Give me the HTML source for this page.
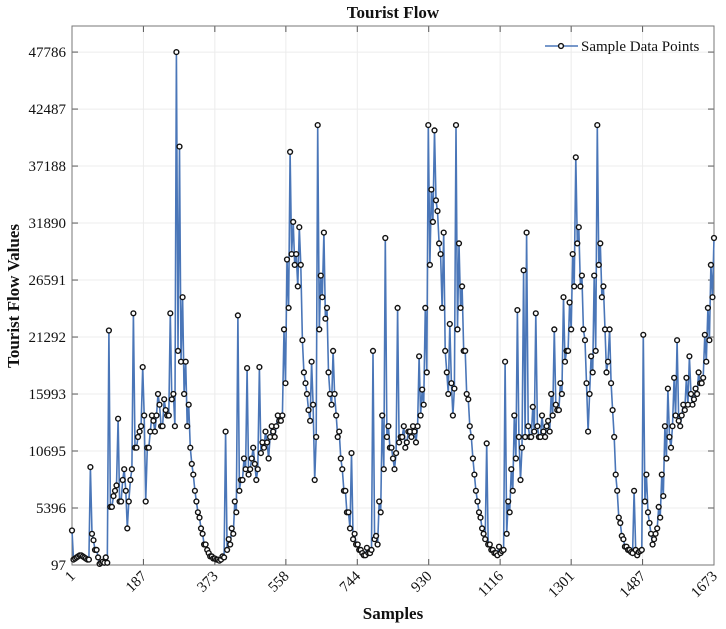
<!DOCTYPE html>
<html><head><meta charset="utf-8"><style>
html,body{margin:0;padding:0;background:#fff;}
svg{display:block;font-family:"Liberation Serif",serif;}
</style></head><body>
<svg id="chart" width="726" height="629" viewBox="0 0 726 629"></svg>
<script>
const yTicks = [97, 5396, 10695, 15993, 21292, 26591, 31890, 37188, 42487, 47786];
const xTicks = [1, 187, 373, 558, 744, 930, 1116, 1301, 1487, 1673];
const sampleStep = 8;
// values at samples 1, 9, 17, ...
const flowValues = [
3300,700,900,1000,800,600,9200,2400,1500,200,
400,800,21900,5500,7000,13700,6000,9000,3500,8000,
23500,11000,12500,18500,6000,11000,14000,12500,16000,13000,
15500,14000,23500,16000,47786,39000,25000,19000,15000,9500,
7000,5000,3500,2000,1500,900,700,600,500,900,
12500,2500,3500,6000,23300,8000,10000,18400,9000,11000,
8000,18500,11500,12500,10000,13000,12000,14000,13500,22000,
28500,38500,32000,29000,31500,21000,17000,14500,19000,8000,
41000,27000,31000,24000,16000,20000,14000,12500,9000,7000,
5000,10500,3000,2000,1500,1000,1700,1200,20000,2800,
6000,14000,30500,13000,11000,9000,24000,12000,13000,11500,
12500,13000,11500,19500,16400,24000,41000,35000,40500,33000,
29000,31000,18000,22500,14000,41000,30000,26000,20000,15500,
12000,8500,6000,4500,3000,11400,2000,1500,1200,1800,
1400,19000,6000,9000,14000,23800,8000,27500,31000,12000,
14800,23500,12000,14000,12000,13500,16000,22000,14500,17000,
25000,20000,24500,29000,38000,31500,27000,21000,12500,19500,
27000,41000,30000,26000,18000,22000,14500,8500,4500,2800,
1800,1500,1300,7000,1000,1400,21500,8500,4000,2000,
3000,5500,8500,13000,16500,11000,17500,21000,13000,15000,
17500,19500,15000,16500,18000,17000,21500,24000,28000,30500
];
// values at samples 5, 13, 21, ... (band level between the above)
const midValues = [
600,800,1000,900,700,600,3000,1500,800,300,
300,300,5500,6500,7500,6000,8000,7000,6000,9000,
11000,12000,13000,14000,11000,12500,13500,14000,15000,13000,
14500,14000,15500,13000,20000,19000,16000,13000,11000,8500,
6000,4500,3000,2000,1200,900,700,600,600,800,
1500,2000,3000,5000,7000,8000,9000,8500,10000,9500,
9000,10500,11000,11500,12000,12500,13000,13500,14000,17000,
24000,29000,28000,26000,28000,18000,16000,13500,15000,12000,
22000,25000,23000,18000,15000,16000,12000,10000,7000,5000,
3500,2500,2000,1500,1200,1000,1200,1500,2500,2000,
5000,9000,12000,11000,10000,10500,11500,12000,11000,12500,
12000,12500,13000,14000,15000,18000,28000,32000,34000,30000,
24000,20000,16000,17000,16500,22000,24000,20000,16000,13000,
10000,7000,5000,3500,2500,2000,1500,1200,1000,1200,
1500,3000,5000,7000,10000,12000,11000,12000,13000,12000,
12500,13000,12000,12500,13000,12500,14000,15000,14500,16000,
19000,20000,22000,26000,30000,26000,22000,17000,16000,18000,
20000,28000,25000,22000,19000,17000,12000,7000,4000,2500,
1800,1500,1200,1500,1300,1500,6000,5000,3000,2500,
3500,4500,6500,10000,12000,13000,14000,13500,14000,14500,
15000,16000,15500,16000,17000,17500,19000,21000,25000
];

const NS = "http://www.w3.org/2000/svg";
const svg = document.getElementById('chart');
const L = 72, R = 714, T = 26, B = 565;
const xMin = 1, xMax = 1673, yMin = 97, yMax = 50210;
const xs = v => L + (v - xMin) / (xMax - xMin) * (R - L);
const ys = v => B - (v - yMin) / (yMax - yMin) * (B - T);
function mk(tag, attrs, parent) {
  const e = document.createElementNS(NS, tag);
  for (const k in attrs) e.setAttribute(k, attrs[k]);
  (parent || svg).appendChild(e);
  return e;
}

const grid = mk('g', {});


yTicks.forEach(t => {
  const y = ys(t);
  const gl = mk('line', {x1: L, x2: R, y1: y, y2: y, stroke: '#ececec', 'stroke-width': 1}, grid);
  
  
  mk('line', {x1: L, x2: L + 6, y1: y, y2: y, stroke: '#555', 'stroke-width': 1}, grid);
  mk('line', {x1: R - 6, x2: R, y1: y, y2: y, stroke: '#555', 'stroke-width': 1}, grid);
  const lab = mk('text', {x: L - 6, y: y + 5, 'text-anchor': 'end', 'font-size': 15, fill: '#111'});
  lab.textContent = t;
  
  
});
xTicks.forEach(t => {
  const x = xs(t);
  const gl = mk('line', {x1: x, x2: x, y1: T, y2: B, stroke: '#ececec', 'stroke-width': 1}, grid);
  
  
  mk('line', {x1: x, x2: x, y1: B - 6, y2: B, stroke: '#555', 'stroke-width': 1}, grid);
  mk('line', {x1: x, x2: x, y1: T, y2: T + 6, stroke: '#555', 'stroke-width': 1}, grid);
  const lab = mk('text', {x: x + 4, y: B + 12, 'text-anchor': 'end', 'font-size': 15, fill: '#111',
    transform: 'rotate(-45 ' + (x + 4) + ' ' + (B + 12) + ')'});
  lab.textContent = t;
  
  
});

const box = mk('rect', {x: L, y: T, width: R - L, height: B - T, fill: 'none', stroke: '#777', 'stroke-width': 1});



const merged = [];
flowValues.forEach((v, i) => merged.push([1 + i * sampleStep, v]));
midValues.forEach((v, i) => { const s = 5 + i * sampleStep; if (s <= xMax) merged.push([s, v]); });
merged.sort((a, b) => a[0] - b[0]);
const pts = merged.map(d => [xs(d[0]), ys(d[1])]);
const line = mk('polyline', {points: pts.map(p => p[0].toFixed(1) + ',' + p[1].toFixed(1)).join(' '),
  fill: 'none', stroke: '#4a76b8', 'stroke-width': 1.6});


const mg = mk('g', {});


pts.forEach(p => {
  const c = mk('circle', {cx: p[0].toFixed(1), cy: p[1].toFixed(1), r: 2.4, fill: '#fff', stroke: '#111', 'stroke-width': 1.4}, mg);
  
  
});

const title = mk('text', {x: 393, y: 18, 'text-anchor': 'middle', 'font-size': 17, 'font-weight': 'bold', fill: '#111'});
title.textContent = 'Tourist Flow';


const xl = mk('text', {x: 393, y: 619, 'text-anchor': 'middle', 'font-size': 17, 'font-weight': 'bold', fill: '#111'});
xl.textContent = 'Samples';


const yl = mk('text', {x: 19, y: 296, 'text-anchor': 'middle', 'font-size': 17, 'font-weight': 'bold', fill: '#111',
  transform: 'rotate(-90 19 296)'});
yl.textContent = 'Tourist Flow Values';



const leg = mk('g', {});


mk('line', {x1: 545, x2: 578, y1: 46, y2: 46, stroke: '#4a76b8', 'stroke-width': 1.6}, leg);
mk('circle', {cx: 561, cy: 46, r: 2.4, fill: '#fff', stroke: '#111', 'stroke-width': 1.4}, leg);
const lt = mk('text', {x: 581, y: 51, 'font-size': 15, fill: '#111'}, leg);
lt.textContent = 'Sample Data Points';
</script>
</body></html>
